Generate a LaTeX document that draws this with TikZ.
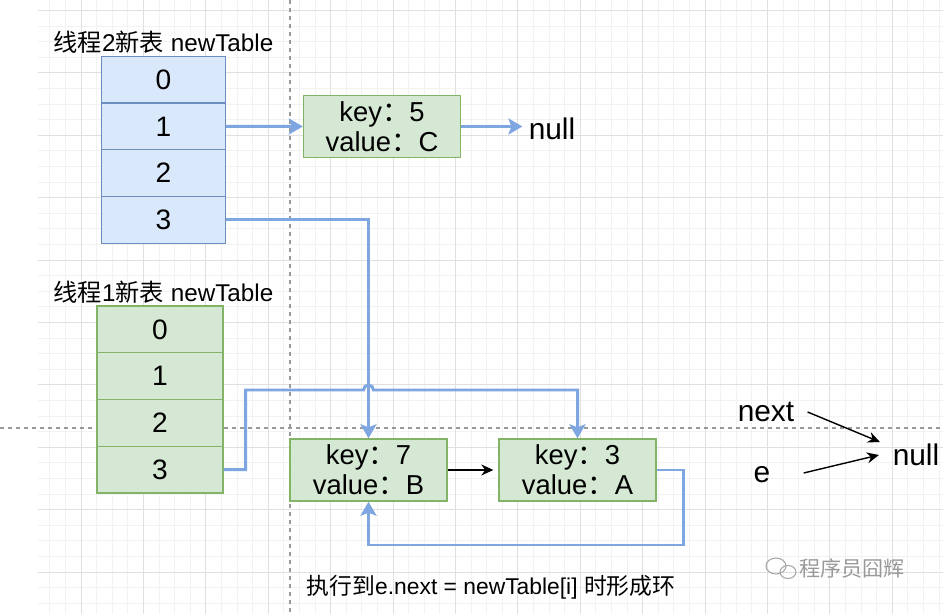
\documentclass[tikz,border=0pt]{standalone}
\usepackage{fontspec}
\setmainfont{Liberation Sans}
\newfontfamily\cjk{Noto Sans CJK SC}
\usetikzlibrary{arrows.meta}
\definecolor{blueline}{HTML}{7EA6E0}
\definecolor{bluefill}{HTML}{DAE8FC}
\definecolor{blueedge}{HTML}{6C8EBF}
\definecolor{greenfill}{HTML}{D5E8D4}
\definecolor{greenedge}{HTML}{82B366}
\newcommand{\zh}[1]{{\cjk #1}}

\begin{document}
\begin{tikzpicture}[x=0.02cm, y=-0.02cm]
    \tikzstyle{cellb}=[draw=blueedge, fill=bluefill, line width=0.8pt, minimum width=2.48cm, minimum height=0.935cm, inner sep=0pt, font=\fontsize{16}{18}\selectfont]
    \tikzstyle{cellg}=[cellb, draw=greenedge, fill=greenfill, minimum width=2.52cm]
    \tikzstyle{entry}=[draw=greenedge, fill=greenfill, line width=0.8pt, minimum width=3.14cm, minimum height=1.24cm, inner sep=0pt, align=center, font=\fontsize{15.6}{17.2}\selectfont]
    \tikzstyle{link}=[draw=blueline, line width=1.7pt, -{Stealth[length=0.28cm, width=0.32cm, inset=0.06cm]}]
    \tikzstyle{ptr}=[draw=black, line width=0.8pt, -{Stealth[length=0.24cm, width=0.22cm]}]
    \tikzstyle{lbl}=[inner sep=0pt, font=\fontsize{17}{20}\selectfont]
    \tikzstyle{title}=[inner sep=0pt, font=\fontsize{13.8}{16}\selectfont]
    \useasboundingbox (0,0) rectangle (943,614);
    \fill[white] (0,0) rectangle (943,614);
    \begin{scope}
      \clip (38,0) rectangle (943,614);
      \foreach \i in {0,...,58} \draw[black!5, line width=0.4pt] ({34.2+15.6*\i},0) -- ++(0,614);
      \foreach \j in {0,...,39} \draw[black!5, line width=0.4pt] (0,{10.4+15.6*\j}) -- ++(943,0);
      \foreach \i in {0,...,15} \draw[black!12, line width=0.5pt] ({18.6+62.4*\i},0) -- ++(0,614);
      \foreach \j in {0,...,9} \draw[black!12, line width=0.5pt] (0,{10.4+62.4*\j}) -- ++(943,0);
    \end{scope}
    \draw[black!40, line width=0.6pt, dash pattern=on 0.08cm off 0.08cm] (290,0) -- (290,614);
    \draw[black!40, line width=0.6pt, dash pattern=on 0.08cm off 0.08cm] (0,428) -- (943,428);
    \node[title] (t2title) at (163.5,42) {\zh{线程}2\zh{新表} newTable};
    \foreach \i in {0,...,3} {
      \node[cellb] (t2r\i) at (163.5,{79.6+46.75*\i}) {\i};
    }
    \node[title] (t1title) at (163.5,292) {\zh{线程}1\zh{新表} newTable};
    \foreach \i in {0,...,3} {
      \node[cellg] (t1r\i) at (160,{329.4+46.75*\i}) {\i};
    }
    \node[entry] (k5) at (382,126.5) {key\zh{：}5\\value\zh{：}C};
    \node[entry] (k7) at (368.5,470) {key\zh{：}7\\value\zh{：}B};
    \node[entry] (k3) at (577.5,470) {key\zh{：}3\\value\zh{：}A};
    \node[lbl] (null1) at (552,128.5) {null};
    \node[lbl] (nxt) at (766,412) {next};
    \node[lbl] (e) at (762,475) {e};
    \node[lbl] (null2) at (916,455) {null};
    \node[inner sep=0pt, font=\fontsize{13}{15}\selectfont] (caption) at (491,587) {\zh{执行到}e.next = newTable[i] \zh{时形成环}};
    \node[inner sep=0pt, text=black!40, font=\fontsize{12}{14}\selectfont] (mark) at (852,568) {\zh{程序员囧辉}};
    \draw[black!35, line width=0.6pt] (776,566) ellipse (0.2cm and 0.16cm);
    \draw[black!35, line width=0.6pt] (788,572) ellipse (0.16cm and 0.13cm);
    \coordinate (jump) at (368.5,390);
    \draw[link] (t2r1.east) -- (k5.west);
    \draw[link, shorten >=0.12cm] (k5.east) -- (k5.east -| null1.west);
    \draw[link] (t2r3.east) -| (k7.north);
    \draw[link] (t1r3.east) -- ++(22,0) |- ([xshift=-0.1cm]jump) arc[start angle=180, end angle=0, radius=0.1cm] -| (k3.north);
    \draw[ptr, shorten >=0.1cm] (k7.east) -- (k3.west);
    \draw[link] (k3.east) -- ++(27,0) -- ++(0,75) -| (k7.south);
    \draw[ptr] ([xshift=0.26cm]nxt.east) -- ([shift={(-0.25cm,0.26cm)}]null2.west);
    \draw[ptr] ([shift={(0.66cm,0.04cm)}]e.east) -- ([xshift=-0.27cm]null2.west);
\end{tikzpicture}
\end{document}
